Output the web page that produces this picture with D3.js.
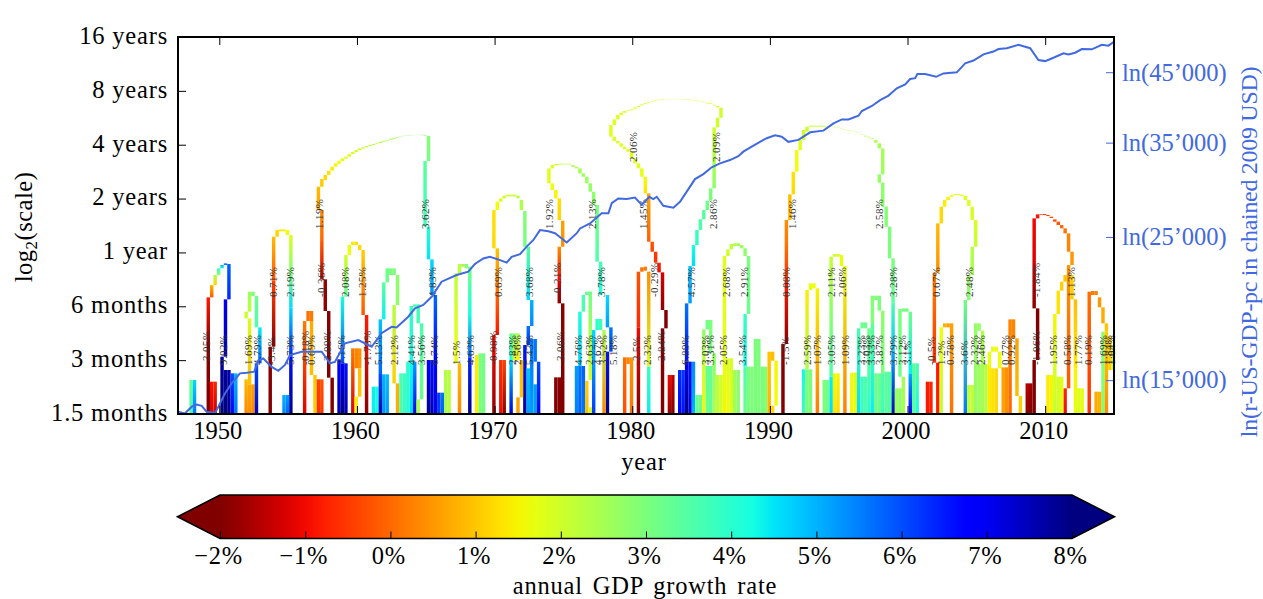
<!DOCTYPE html>
<html>
<head>
<meta charset="utf-8">
<script src="https://cdn.jsdelivr.net/npm/d3@7"></script>
<style>
  html, body { margin: 0; padding: 0; background: #fff; }
  svg { display: block; }
  text { font-family: "Liberation Serif", serif; }
</style>
</head>
<body>
<svg id="chart" width="1263" height="599"></svg>
<script>
// ridge cells: [quarter since 1947, top bin, bottom bin, growth at top, growth at bottom]
// bins are wavelet scale bins above 1.5 months, 161.6 bins to the octave
const ridges1947to1951 = [
  [3,102,0,3.2,3.6],[4,102,0,4.6,5.6],
  [8,350,222,-0.8,-1.8],[8,222,0,-1.9,-2],[9,97,0,-0.9,-1.2],[10,97,0,-0.7,-1.4],
  [9,387,350,0.9,-0.2],[10,417,387,2.4,1.2],[11,437,417,3.8,2.8],[12,447,437,5,4.2],[13,452,447,5.6,5.4],
  [14,450,344,5.8,6.4],[13,344,172,7,7.6],[12,172,0,7.7,8],
  [13,132,0,7.8,8],[14,132,0,7.6,8],[15,122,0,6,6.8],[16,122,0,5,5.6],
  [19,104,0,0.9,0.3],[20,89,0,0.7,0.4],[21,89,0,0.6,0.3],
  [20,287,89,1.9,0.9],[19,307,287,2.1,2],[20,367,307,2.6,2.2],[21,367,354,3],[22,354,260,3.2,3.6],
  [23,260,152,4.4,5.8],[22,152,0,6,7.4]
];
const ridges1953to1958 = [
  [26,202,0,-1.9,-2],[27,532,400,0.9,-0.2],[27,400,202,-0.4,-1.9],
  [28,552,532,1.2,1.1],[29,554,548,1.3,1.4],[30,554,548,1.4,1.5],[31,552,537,1.6,1.7],
  [32,537,420,1.8,3],[32,420,320,3,4.6],[32,320,172,4.6,6.4],[32,172,0,6.6,8],
  [30,57,0,5,5.4],[31,57,0,5.2,5.8],
  [36,279,0,0.2,-1.2],[37,309,279,0.1],[38,309,279,0.2],[38,279,117,0.7,0.9],[39,117,0,1,1.1],
  [40,104,0,-0.4,-0.6],[41,104,0,-0.2,-0.5],
  [41,612,522,0.4,0],[41,522,404,-0.1,-1.4],[42,404,309,-1.7,-1.9],[43,309,109,-1.9,-2],[44,109,0,-2]
];
const ridgeArch1957 = [
  [40,682,612,0.9,0.6],[41,705,682,1.1,1],[42,717,702,1.2],[43,730,717,1.3],[44,742,730,1.4],[45,752,742,1.5],
  [46,760,750,1.6],[47,767,759,1.7],[48,772,766,1.8],[49,780,772,1.8],[50,786,780,1.9],[51,792,786,2],
  [52,797,792,2],[53,800,796,2.1],[54,804,800,2.1],[55,807,804,2.2],[56,810,807,2.2],[57,812,810,2.3],
  [58,817,813,2.3],[59,820,817,2.4],[60,822,820,2.4],[61,826,823,2.5],[62,829,826,2.5],[63,831,829,2.6],
  [64,833,832,2.6],[65,835,834,2.7],[66,836,835,2.7],[67,837,836,2.7],[68,837.5,837,2.8],[69,837.5,837,2.8],
  [70,838,837,2.8],[71,836,834,2.9],[72,834,759,2.9,3.1],[71,759,562,3.4,3.8],[72,562,464,4,4.5],
  [73,464,357,4.6,5.4],[74,357,162,5.7,6.8]
];
const ridges1959to1968 = [
  [72,162,0,6.8,7.8],[73,162,0,6.6,7.6],[74,162,0,6.8,7],[75,64,0,6.2],[76,64,0,5.6,5.8],
  [77,132,0,2.3,2.5],[78,132,0,2.2,2.3],
  [47,352,152,4.2,6],[48,477,352,1.9,3.4],[49,507,477,1.7,1.6],[50,517,507,1.4],[51,517,507,1.3],
  [52,507,492,1.2],[53,492,297,1.1,-0.2],[54,297,0,-0.8,-1.9],
  [46,164,0,6.8,7.5],[47,152,0,7,8],[48,152,0,6.6,7.6],
  [50,197,0,0.2,-1.2],[51,197,137,0.3],[52,197,137,0.4],[52,137,52,0.9,1],[51,52,0,1.4,1.6],
  [56,82,0,4.4],[57,82,0,4.2],[58,284,120,4.8,5.8],[58,120,0,6,7.6],[59,395,284,3.4,4.4],[60,437,395,3.2],
  [61,437,417,3],[62,437,417,3],[63,417,327,2.8],[62,327,92,2.3,1.1],[63,92,0,0.8,0.7],
  [59,119,0,5,5.3],[60,119,0,4.9,5.2],[64,122,0,3.6],[65,122,0,3.8],[66,157,0,4,4.1],[67,157,0,4.3,4.6],
  [67,324,157,3.8,4.3],[68,329,322,3.7],[68,157,0,5.2,7],[69,329,272,3.7],[70,272,44,3.6,3.2],[69,44,0,2.4],
  [80,422,152,2.2,1.6],[81,152,0,0.9,0.3],[81,450,422,2.2],[82,450,442,2.5],[83,450,437,2.9],
  [84,442,300,3.1,4.2],[84,300,170,4.2,5.8],[84,170,0,6.4,7.9],
  [86,177,0,1.4],[87,182,0,3],[88,182,0,3.1]
];
const ridges1969to1974 = [
  [91,612,497,1.3,1.2],[92,637,612,1.6],[92,497,237,1,-0.9],[91,237,0,-1,-1.8],[93,647,637,1.8],[94,655,647,2],
  [95,658,653,2],[96,658,653,2],[97,658,653,2.1],[98,655,647,2.2],[99,642,612,2.4],[100,609,502,2.9,3.1],
  [101,502,342,3.4,4.6],[102,342,264,5,5.4],[101,264,207,5.6,6.2],[100,207,0,6.5,7.8],
  [93,162,0,-0.6,-1],[94,162,0,-0.4,-1.9],
  [96,242,162,3.2,4.2],[96,162,0,4.6,7.2],[97,242,162,2.8,1.8],[98,242,162,2.5,1.4],[99,162,50,0.9,1],[98,50,0,0.6],
  [101,137,0,4.8,5.2],[102,225,0,5.6,5.2],[103,225,157,5.6],[103,89,0,5.2],[104,157,0,6,7],
  [109,110,0,-1.9,-2],[110,110,0,-1.9,-2],[111,332,0,-1.9,-2],[110,502,400,0.4,-1],[110,400,332,-1.1,-1.9],
  [111,580,502,0.6,0.4],[110,647,582,1.3,1.1],[109,672,647,1.5],[108,692,672,1.6],[107,737,692,1.8],
  [108,747,737,1.8],[109,750,746,1.9],[110,751,748,2],[111,751,749,2.1],[112,751,749,2.2],[113,751,749,2.3],
  [114,747,742,2.4],[115,742,737,2.4],[116,737,722,2.5],[117,722,712,2.6],[118,712,692,2.6],[119,692,667,2.7],
  [120,667,627,2.8],[121,627,457,3,3.6],[122,457,357,3.7,4.2],[124,357,260,4.6,5.2],[125,260,187,5.6,6],[124,187,0,6.6,8]
];
const ridges1975to1980 = [
  [115,144,0,5.2,5.5],[116,307,144,4.1,4.7],[116,144,0,5.6,5.8],[117,357,307,3.6],[117,144,0,5.8,5.6],
  [118,367,357,3.3],[119,367,357,3.3],[119,367,102,3.1,1.9],[118,100,0,1.1,0.9],[119,20,0,1.9],
  [120,252,0,4.6,6.2],[121,285,252,4],[122,285,252,3.8],[123,252,0,2.4,0.3],
  [129,170,0,0.1,-0.3],[130,170,150,0.3],[131,170,0,0.5,0.1],
  [133,427,260,-0.2,-0.7],[133,260,0,-1,-2],[134,440,427,0.1],[135,442,430,0.2],
  [136,427,142,0.4,1.9],[136,142,0,3.8,4.4],[136,662,517,0.7,-0.1],[137,517,487,-0.2,-0.4],[138,487,454,-0.5,-0.6],
  [139,454,425,-0.7,-1],[140,425,312,-1.2,-1.9],[141,312,257,-2],[140,257,0,-2],
  [142,117,0,-1,-1.8],[143,117,0,-1.4,-2]
];
const ridgeArch1978 = [
  [135,712,662,1.6,1.3],[134,737,712,1.7],[133,752,737,1.8],[132,767,752,1.8],[131,787,767,1.8],[130,795,787,1.8],
  [129,802,795,1.8],[128,812,802,1.8],[127,819,812,1.8],[126,832,819,1.8],[125,867,832,1.8],[126,884,867,1.8],
  [127,897,884,1.8],[128,904,897,1.8],[129,909,904,1.8],[130,911,909,1.8],[131,914,911,1.8],[132,920,916,1.8],
  [133,924,921,1.8],[134,929,926,1.8],[135,933,931,1.8],[136,936,934,1.8],[137,938,937,1.8],[138,941,939,1.8],
  [139,943,942,1.8],[140,944,943,1.8],[141,944.5,944,1.8],[142,945,944.5,1.8],[143,945,944.5,1.8],[144,945,944.5,1.8],
  [145,945,944.5,1.8],[146,944.5,944,1.8],[147,944,943,1.8],[148,943,942,1.8],[149,942,941,1.8],[150,941,940,1.8],
  [151,939,938,1.8],[152,937,936,1.9],[153,934,932,1.9],[154,932,930,1.9],[155,928,926,1.9],[156,924,920,1.9],
  [157,919,889,2],[156,889,860,2],[155,860,677,2,2.8],[154,677,640,3],[153,640,612,3.2],[152,612,584,3.4],
  [151,584,552,3.6],[150,552,507,3.8,4],[149,507,444,4.2,4.6],[148,444,332,4.8,5.2],[147,332,157,5.6,6.6]
];
const ridges1983to1990 = [
  [147,157,0,7,8],[148,157,0,6.6,7.2],[149,157,0,5.4,5],[145,132,0,6.3,6.8],[146,132,0,6.2,6.6],
  [150,57,0,3.2],[151,57,0,3.2],[152,254,150,2.8,2.2],[152,150,0,2,1.5],
  [153,282,254,3.1],[154,282,254,3],[154,254,182,3],[155,182,0,2.8,2.4],[153,144,0,3.3,3.2],[154,144,0,3.3],
  [156,117,0,2.2],[157,117,0,2],[158,474,167,1.8,1.7],[159,494,474,2],[160,510,494,2.2],[161,512,504,2.4],
  [162,512,504,2.5],[163,507,497,2.6],[164,497,474,2.8],[165,474,300,3,3.2],[164,300,142,3.8,4.3],
  [158,167,0,1.7,1.5],[159,167,0,1.8,1.6],[160,167,0,1.9,1.8],[161,132,0,2.6],[162,132,0,2.8],[164,142,0,3.6,3.2],
  [165,142,0,3],[166,142,0,3],[167,225,0,3],[168,225,0,3],[169,142,0,3],[170,142,0,2.9],
  [171,187,0,1,0.8],[172,187,160,0.9],[172,25,0,1.2],[173,160,25,1.5,1.6]
];
const ridgeArch1992 = [
  [175,210,0,-1.9,-2],[176,522,400,0.2,-0.6],[176,400,210,-0.8,-1.9],[176,582,522,0.4,0.2],[177,659,582,0.9],
  [178,727,659,1.3,1.2],[179,792,727,1.6],[180,822,792,1.8],[181,852,822,2],[182,862,847,2],
  [183,865,862,2.1],[184,865,862,2.1],[185,865,862,2.1],[186,865,862,2.1],[187,865,862,2.1],[188,864,863,2.1],
  [189,863,862,2.1],[190,861,860,2.1],[191,859,858,2.1],[192,857,856,2.1],[193,854,853,2.2],[194,852,851,2.2],
  [195,850,849,2.2],[196,847,846,2.2],[197,844,843,2.3],[198,840,839,2.3],[199,835,833,2.3],[200,832,830,2.4],
  [201,827,825,2.4],[202,822,814,2.4],[203,812,797,2.5],[204,797,719,2.5,2.6],[203,719,694,2.7],[204,694,622,2.8],
  [205,622,562,2.9],[206,562,467,3],[207,467,334,3,3.4],[207,334,190,3.6,4.8],[207,190,0,5,7.5]
];
const ridges1992to2001 = [
  [181,134,0,4.3,3.8],[182,372,134,1.4,2.4],[182,134,0,3],[183,134,0,3],[183,392,372,1.7],[184,392,377,1.6],[185,377,0,1.5,0.2],
  [187,102,0,3],[188,102,0,3.1],[189,472,112,2.1,3.6],[189,112,0,4.4,4.6],[190,480,472,2],[191,480,472,1.9],
  [192,477,444,1.7],[193,444,0,1.7,0.2],[190,122,0,1.6,1.3],[191,122,0,1.5,1.2],
  [195,124,0,1.7,1.5],[196,124,0,1.8,1.6],[197,257,0,3.6,4.6],[198,275,257,3.2],[199,275,257,3.2],
  [198,112,0,3.8],[199,112,0,3.6],[200,257,0,3.1,4],[201,355,270,2.9,3],[201,270,0,3.4,4.4],
  [202,355,342,3],[202,122,0,3.2],[203,355,310,3],[203,122,0,3.2],[204,310,122,2.8,3],[204,122,0,3.6,3.8],
  [205,127,0,3.4],[206,127,0,3.5],[208,77,0,2.6],[209,315,112,3,3.2],[209,77,0,2.8],[210,317,307,3.1],
  [210,112,0,2.5],[211,317,307,3.1],[212,307,120,3.2,4.4],[212,120,0,5,6.8],[213,152,0,3.4],[214,152,0,3.6,4.2]
];
const ridges2001to2007 = [
  [217,97,0,-0.8,-0.9],[218,97,0,-0.7,-0.8],[219,424,154,0.3,-0.6],[220,572,424,0.9,0.4],[220,154,0,-0.9,-0.8],
  [221,260,0,1.6,2.2],[222,272,260,0.8],[223,272,260,0.6],[224,272,0,0.6,0.1],
  [221,622,572,1.2],[222,642,622,1.4],[223,652,642,1.5],[224,657,652,1.6],[225,660,657,1.6],[226,660,657,1.7],
  [227,658,654,1.7],[228,654,642,1.8],[229,642,624,1.8],[230,622,582,1.9],[231,582,502,1.9,2.1],[230,502,417,2.3,2.5],
  [229,417,342,2.6,2.9],[228,342,0,3.1,5.6],[229,87,0,2.2],[230,87,0,2.1],
  [231,272,0,2.7],[232,272,250,2.7],[233,250,150,2.4],[232,150,0,2.6],[233,150,0,2.5],[234,150,0,2.3],
  [235,187,144,1.7],[236,202,187,1.7],[237,202,187,1.6],[238,187,137,1.6],[235,144,0,1.4],[236,137,0,1.3],[237,137,0,1.2],
  [239,140,0,0.6],[240,140,0,0.4],[241,284,227,0.3],[242,284,227,0.3],[241,227,0,0.2,0],[243,227,54,0.6,0.9],[244,54,0,1.1]
];
const ridges2008to2014 = [
  [246,92,0,-1.5,-1.9],[247,92,0,-1.7,-2],[248,162,0,-2],[249,317,162,-2],[248,587,450,-1,-1.2],[248,450,317,-1.4,-1.9],
  [249,599,587,-0.9],[250,600,598,-0.7],[251,600,597,-0.6],[252,597,594,-0.5],[253,592,588,-0.4],[254,584,577,-0.3],
  [255,577,567,-0.2],[256,567,557,0],[257,557,542,0.1],[258,542,487,0.3],[259,487,447,0.5],[258,447,77,0.5,-0.2],[257,77,0,-0.7,-1],
  [254,300,117,1.5,1.9],[255,370,300,1.3],[256,397,370,1.1],[257,417,397,1],[259,417,344,1.1],[260,344,137,0.9,1.4],[260,137,0,1.5,1.7],
  [261,77,0,1.8],[262,77,0,1.7],[252,117,0,1.4],[253,117,0,1.5],[254,117,0,1.9,2.2],[255,112,0,1.9],[256,112,0,1.8],
  [264,367,0,0.1,-0.6],[265,369,357,0.2],[266,369,357,0.3],[267,350,320,0.5],[268,320,272,0.7],[269,272,247,1],
  [268,247,0,2.8,3],[269,247,0,1.1,0.4],[270,232,132,1.1],[271,202,132,2],[266,67,0,0.7],[267,67,0,0.8]
];

// growth labels: [quarter position, text], one array per height
const labelsLow = [
  [7.85,"-3.05%"],[12.7,"9.02%"],[19.96,"1.69%"],[22.7,"4.79%"],[26.75,"-3.4%"],[32.3,"5.73%"],[36.4,"-0.18%"],[38.2,"0.69%"],
  [43,"-2.09%"],[47.1,"7.16%"],[54.65,"-1.73%"],[57.75,"5.13%"],[62.4,"2.12%"],[67.25,"4.41%"],[70.35,"3.56%"],[73.9,"6.74%"],
  [80.3,"1.5%"],[84.4,"4.63%"],[91.2,"-0.98%"],[96.7,"2.83%"],[98.2,"2.56%"],[101.65,"5.43%"],[110.6,"-3.06%"],[115.9,"4.76%"],
  [119,"2.63%"],[121.5,"4.67%"],[123.2,"3.52%"],[126,"5.18%"],[132.7,"-2.5%"],[136,"2.32%"],[140.1,"-2.84%"],[146.9,"6.89%"],
  [152.7,"3.03%"],[154.2,"3.31%"],[157.9,"2.05%"],[163.4,"3.54%"],[176,"-1.5%"],[182.3,"2.59%"],[185.4,"1.07%"],[189.5,"3.05%"],
  [193.4,"1.09%"],[198.2,"3.23%"],[199.7,"3.03%"],[201.1,"3.33%"],[203.3,"3.87%"],[207.4,"3.79%"],[210,"3.12%"],[211.6,"3.1%"],
  [218.6,"-0.5%"],[221.5,"1.2%"],[223.9,"0.78%"],[228,"3.6%"],[230.9,"2.32%"],[232.9,"2.46%"],[239.9,"0.77%"],[241.8,"0.92%"],
  [248.9,"-1.96%"],[254,"1.95%"],[258,"0.58%"],[261.2,"1.77%"],[264.1,"0.19%"],[268.3,"1.69%"],[269.8,"1.84%"],[270.7,"1.04%"]
];
const labelsMid = [
  [27.2,"0.71%"],[32.3,"2.19%"],[41.3,"-0.36%"],[48.06,"2.08%"],[53.2,"1.25%"],[73.5,"4.83%"],[92.6,"0.69%"],[101.65,"3.68%"],
  [109.8,"-0.21%"],[122.7,"3.78%"],[138,"-0.29%"],[148.8,"4.57%"],[159,"2.68%"],[164.2,"2.91%"],[176.3,"0.08%"],[189.5,"2.11%"],
  [192.6,"2.06%"],[207.4,"3.28%"],[219.8,"0.67%"],[229.5,"2.48%"],[248.9,"-1.84%"],[259.1,"1.13%"]
];
const labelsHigh = [
  [40.7,"1.19%"],[71.3,"3.62%"],[107.5,"1.92%"],[119.8,"2.13%"],[134.8,"1.45%"],[155.1,"2.86%"],[178.2,"1.46%"],[203.4,"2.58%"]
];
const labelsTop = [[131.9,"2.06%"],[156.1,"2.09%"]];

const gdpYears = [
  1947,1947.5,1948,1948.36,1948.72,1949.08,1949.69,1949.93,1950.41,1950.9,1951.5,1952,1952.54,1952.84,1953.2,1953.8,1954.29,1954.77,
  1955.14,1955.98,1956.83,1957.44,1958.04,1958.4,1959.13,1960.1,1961.07,1961.79,1962.52,1962.88,1963.73,1964.22,1964.82,1965.43,
  1966.15,1967.24,1968.09,1968.57,1969.18,1969.66,1970.4,1970.88,1971.24,1971.85,1972.33,1972.82,1973.3,1973.91,1974.39,1975.24,
  1975.97,1976.21,1976.93,1977.78,1978.27,1978.51,1978.99,1979.6,1980.2,1980.69,1981.24,1981.53,1981.78,1982.26,1982.99,1983.47,
  1984.56,1985.17,1985.77,1986.38,1987.1,1987.71,1988.07,1988.68,1989.28,1989.77,1990.37,1990.86,1991.34,1992.07,1992.93,1993.89,
  1994.62,1995.23,1995.71,1996.44,1996.68,1997.41,1998.01,1998.62,1999.22,1999.83,2000.19,2000.55,2000.72,2001.28,2002.08,2002.61,
  2003.58,2004.19,2004.79,2005.52,2006.24,2006.61,2007.21,2008.06,2008.91,2009.51,2010,2010.6,2011.33,2011.69,2012.18,2012.66,
  2013.39,2014.11,2014.6,2015
];
const gdpLn = [
  9.503,9.497,9.521,9.529,9.524,9.503,9.499,9.521,9.568,9.604,9.64,9.642,9.646,9.687,9.693,9.663,9.649,9.67,
  9.705,9.717,9.717,9.717,9.676,9.681,9.747,9.759,9.735,9.783,9.806,9.804,9.842,9.872,9.884,9.913,
  9.967,9.991,10.003,10.03,10.05,10.056,10.044,10.035,10.056,10.065,10.092,10.116,10.151,10.147,10.14,10.107,
  10.14,10.157,10.175,10.211,10.211,10.247,10.264,10.262,10.267,10.241,10.27,10.262,10.27,10.238,10.231,10.252,
  10.333,10.351,10.375,10.389,10.401,10.415,10.431,10.449,10.466,10.479,10.489,10.484,10.466,10.473,10.5,10.506,
  10.532,10.546,10.546,10.559,10.576,10.594,10.615,10.631,10.657,10.671,10.69,10.693,10.708,10.708,10.698,10.71,
  10.714,10.746,10.756,10.778,10.788,10.797,10.8,10.812,10.8,10.758,10.754,10.766,10.782,10.778,10.784,10.797,
  10.796,10.812,10.809,10.823
];

const yearTicks = [1950,1960,1970,1980,1990,2000,2010];
const scaleTicks = [-3,-2,-1,0,1,2,3,4];
const scaleTickLabels = ["1.5 months","3 months","6 months","1 year","2 years","4 years","8 years","16 years"];
const gdpTicks = [15000,25000,35000,45000];
const gdpTickLabels = ["ln(15\u2019000)","ln(25\u2019000)","ln(35\u2019000)","ln(45\u2019000)"];
const growthTicks = [-2,-1,0,1,2,3,4,5,6,7,8];
const growthTickLabels = ["\u22122%","\u22121%","0%","1%","2%","3%","4%","5%","6%","7%","8%"];

const binsPerOctave = 161.6;
const blue = "#4169e1";
const fontSize = 24.5;
const margin = { top: 37, right: 149, bottom: 185, left: 178 };
const width = 1263 - margin.left - margin.right;
const height = 599 - margin.top - margin.bottom;

// matplotlib's jet map, run backwards over -2%..8%
const jetR = d3.scaleLinear().domain([0,0.35,0.66,0.89,1]).range([0,0,1,1,0.5]).clamp(true);
const jetG = d3.scaleLinear().domain([0,0.125,0.375,0.64,0.91,1]).range([0,0,1,1,0,0]).clamp(true);
const jetB = d3.scaleLinear().domain([0,0.11,0.34,0.65,1]).range([0.5,1,1,0,0]).clamp(true);
const growthColor = g => {
    let t = (8 - g) / 10;
    return d3.rgb(jetR(t) * 255, jetG(t) * 255, jetB(t) * 255).formatHex();
};

const svg = d3.select("#chart");
const defs = svg.append("defs");
defs.append("clipPath").attr("id", "plot-clip").append("rect")
    .attr("width", width).attr("height", height);

const chart = svg.append("g").attr("transform", `translate(${margin.left},${margin.top})`);

const xScale = d3.scaleLinear().domain([1947, 2015]).range([0, width]);
const yScale = d3.scaleLinear().domain([-3, 4]).range([height, 0]);
const gdpScale = d3.scaleLinear().domain([9.495, 10.84]).range([height, 0]);

const binToY = bin => yScale(-3 + bin / binsPerOctave);
const quarterToX = q => xScale(1947 + q / 4);

// ridges
const ridgeCells = [].concat(ridges1947to1951, ridges1953to1958, ridgeArch1957, ridges1959to1968, ridges1969to1974,
    ridges1975to1980, ridgeArch1978, ridges1983to1990, ridgeArch1992, ridges1992to2001, ridges2001to2007, ridges2008to2014);

const cellFill = (d, i) => {
    if (d[4] === undefined) return growthColor(d[3]);
    let grad = defs.append("linearGradient").attr("id", `cell${i}`)
        .attr("x1", 0).attr("y1", 0).attr("x2", 0).attr("y2", 1);
    grad.append("stop").attr("offset", 0).attr("stop-color", growthColor(d[3]));
    grad.append("stop").attr("offset", 1).attr("stop-color", growthColor(d[4]));
    return `url(#cell${i})`;
};

chart.append("g").attr("clip-path", "url(#plot-clip)")
    .selectAll("rect").data(ridgeCells).join("rect")
    .attr("x", d => quarterToX(d[0] + 0.3))
    .attr("width", d => quarterToX(d[0] + 1.3) - quarterToX(d[0] + 0.3))
    .attr("y", d => binToY(d[1]))
    .attr("height", d => binToY(d[2]) - binToY(d[1]))
    .attr("fill", cellFill);

// growth labels
const labelGroups = [[labelsLow, 147], [labelsMid, 351], [labelsHigh, 555], [labelsTop, 756]];
labelGroups.forEach(([labels, bin]) => {
    chart.append("g").selectAll("text").data(labels).join("text")
        .attr("transform", d => `translate(${quarterToX(d[0] + 0.5)},${binToY(bin)}) rotate(-90)`)
        .attr("dy", "0.32em")
        .attr("font-size", 11)
        .attr("letter-spacing", 0.4)
        .attr("fill", "#333")
        .text(d => d[1]);
});

// gdp line
chart.append("path")
    .datum(gdpYears)
    .attr("fill", "none")
    .attr("stroke", blue)
    .attr("stroke-width", 2)
    .attr("d", d3.line().x(d => xScale(d)).y((d, i) => gdpScale(gdpLn[i])));

// axes
const bottomAxis = d3.axisBottom(xScale).tickValues(yearTicks).tickFormat(d3.format("d")).tickSizeInner(-8).tickSizeOuter(0).tickPadding(8);
const topAxis = d3.axisTop(xScale).tickValues(yearTicks).tickFormat("").tickSizeInner(-8).tickSizeOuter(0);
const leftAxis = d3.axisLeft(yScale).tickValues(scaleTicks).tickFormat((d, i) => scaleTickLabels[i]).tickSizeInner(-8).tickSizeOuter(0).tickPadding(10);
const rightAxis = d3.axisRight(gdpScale).tickValues(gdpTicks.map(Math.log)).tickFormat((d, i) => gdpTickLabels[i]).tickSizeInner(-8).tickSizeOuter(0).tickPadding(8);

const styleAxis = (g, color) => {
    g.select(".domain").remove();
    g.selectAll("line").attr("stroke", color).attr("stroke-width", 1);
    g.selectAll("text").attr("fill", color).attr("font-size", fontSize).attr("font-family", "Liberation Serif");
};

let bottomG = chart.append("g").attr("transform", `translate(0,${height})`).call(bottomAxis).call(styleAxis, "#000");
bottomG.selectAll("text").attr("dx", -2);
chart.append("g").call(topAxis).call(styleAxis, "#000");
let leftG = chart.append("g").call(leftAxis).call(styleAxis, "#000");
leftG.selectAll("text").attr("dy", "0.26em").attr("letter-spacing", 0.8);
chart.append("g").attr("transform", `translate(${width},0)`).call(rightAxis).call(styleAxis, blue);

chart.append("rect")
    .attr("width", width).attr("height", height)
    .attr("fill", "none").attr("stroke", "#000").attr("stroke-width", 2);

chart.append("text")
    .attr("x", width / 2 - 2).attr("y", height + 56)
    .attr("text-anchor", "middle").attr("font-size", fontSize).attr("letter-spacing", 0.8)
    .text("year");

let yLabel = svg.append("text")
    .attr("transform", `translate(32,227) rotate(-90)`)
    .attr("text-anchor", "middle").attr("font-size", fontSize).attr("letter-spacing", 0.5);
yLabel.append("tspan").text("log");
yLabel.append("tspan").attr("dy", 5).attr("font-size", 17).text("2");
yLabel.append("tspan").attr("dy", -5).text("(scale)");

svg.append("text")
    .attr("transform", `translate(1257,252) rotate(-90)`)
    .attr("text-anchor", "middle").attr("font-size", 24).attr("letter-spacing", -0.3).attr("fill", blue)
    .text("ln(r-US-GDP-pc in chained 2009 USD)");

// colour bar
const barScale = d3.scaleLinear().domain([-2, 8]).range([220, 1072]);
const barTop = 495, barBottom = 538.5, barMid = (barTop + barBottom) / 2;

let barGrad = defs.append("linearGradient").attr("id", "growth-bar");
d3.range(-2, 8.01, 0.25).forEach(g => {
    barGrad.append("stop").attr("offset", (g + 2) / 10).attr("stop-color", growthColor(g));
});

svg.append("rect")
    .attr("x", barScale(-2)).attr("y", barTop)
    .attr("width", barScale(8) - barScale(-2)).attr("height", barBottom - barTop)
    .attr("fill", "url(#growth-bar)");
svg.append("path")
    .attr("d", d3.line()([[barScale(-2), barTop], [barScale(-2.5), barMid], [barScale(-2), barBottom]]))
    .attr("fill", growthColor(-2));
svg.append("path")
    .attr("d", d3.line()([[barScale(8), barTop], [barScale(8.5), barMid], [barScale(8), barBottom]]))
    .attr("fill", growthColor(8));
svg.append("path")
    .attr("d", d3.line()([[barScale(-2), barTop], [barScale(8), barTop], [barScale(8.5), barMid], [barScale(8), barBottom],
        [barScale(-2), barBottom], [barScale(-2.5), barMid]]) + "Z")
    .attr("fill", "none").attr("stroke", "#000").attr("stroke-width", 1.5);

const barAxis = d3.axisBottom(barScale).tickValues(growthTicks).tickFormat((d, i) => growthTickLabels[i])
    .tickSizeInner(-7).tickSizeOuter(0).tickPadding(8);
let barG = svg.append("g").attr("transform", `translate(0,${barBottom})`).call(barAxis).call(styleAxis, "#000");
barG.selectAll("text").attr("dx", -2).attr("letter-spacing", 0.7);

svg.append("text")
    .attr("x", 645).attr("y", 594)
    .attr("text-anchor", "middle").attr("font-size", fontSize)
    .attr("letter-spacing", 0.8).attr("word-spacing", 3)
    .text("annual GDP growth rate");
</script>
</body>
</html>
